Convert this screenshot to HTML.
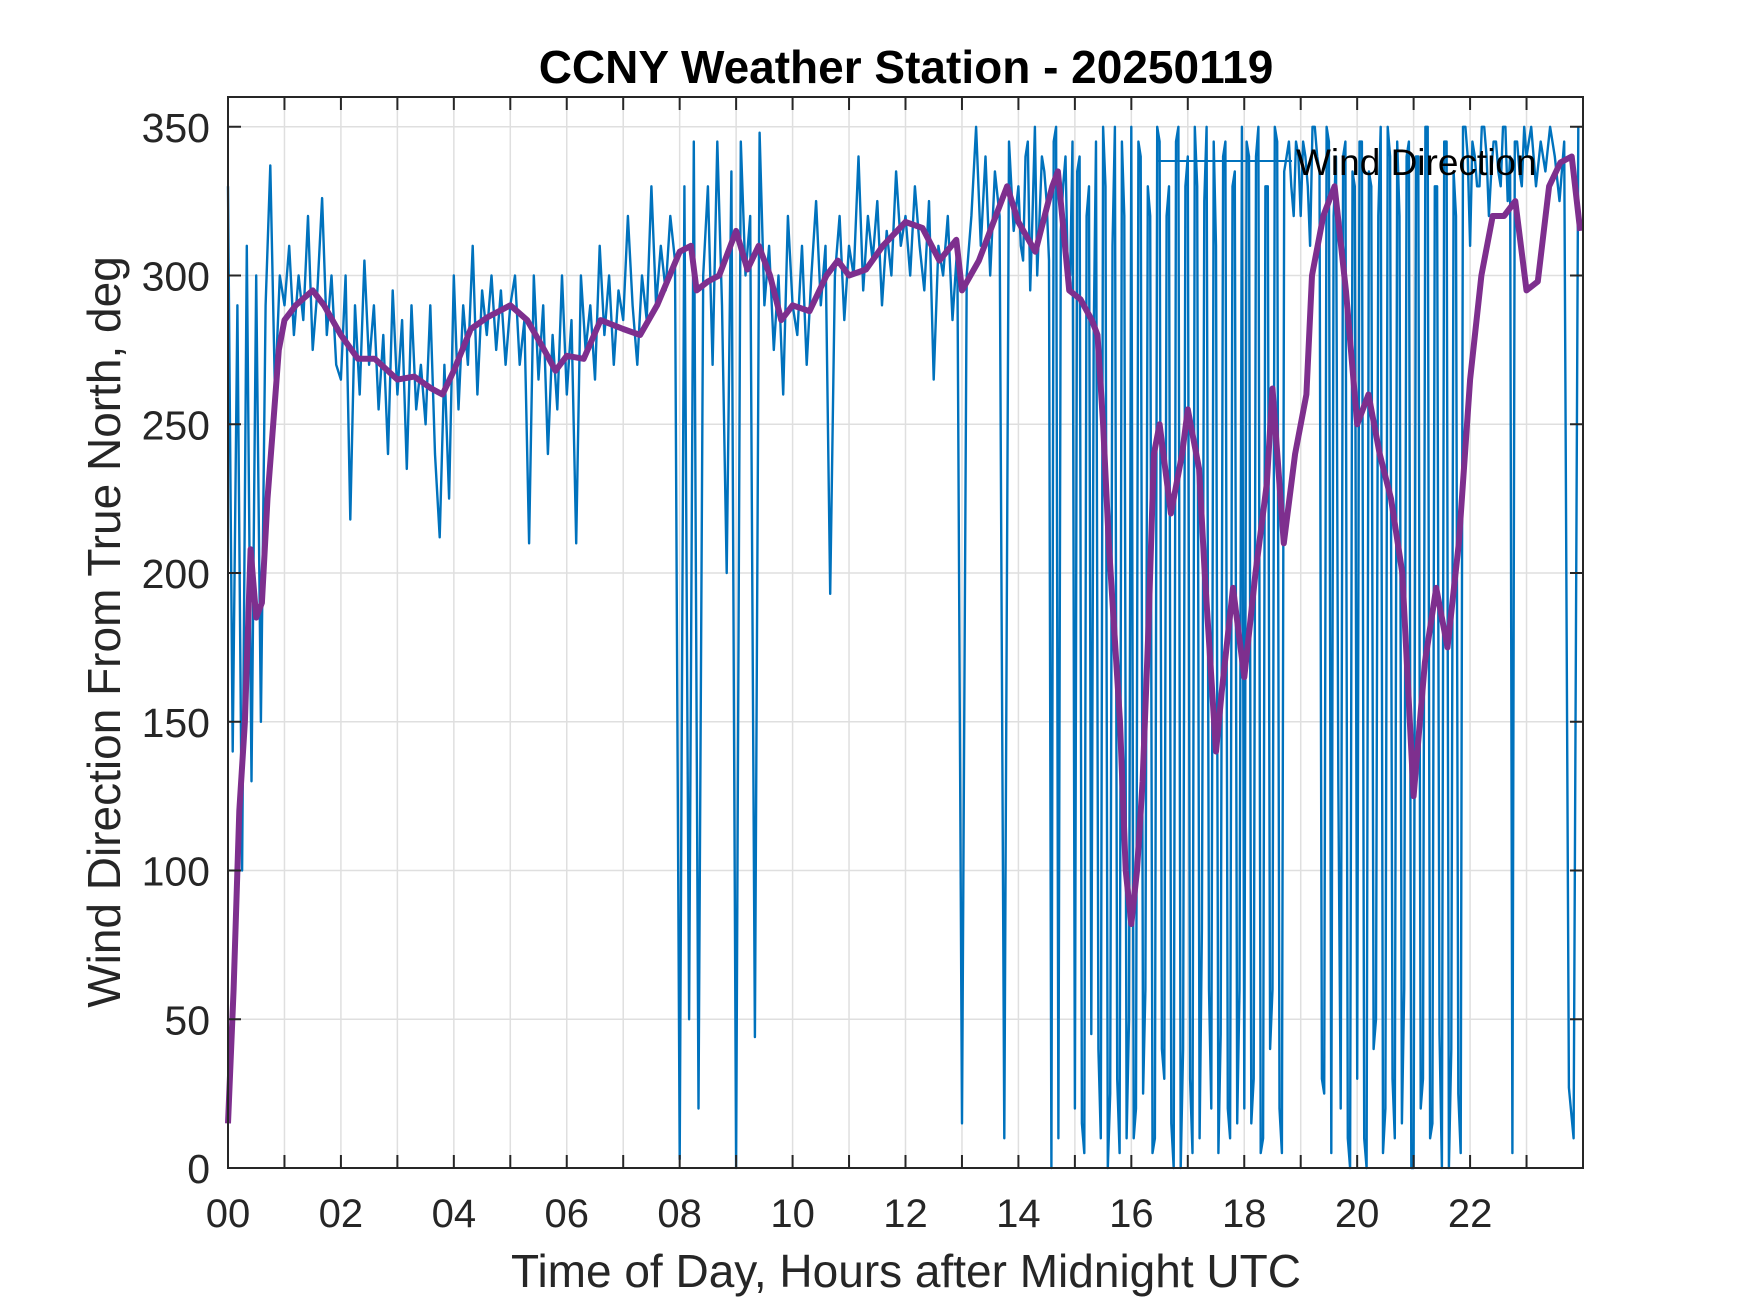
<!DOCTYPE html>
<html><head><meta charset="utf-8">
<style>
html,body{margin:0;padding:0;background:#fff;}
svg{display:block;font-family:"Liberation Sans",Arial,sans-serif;}
</style></head>
<body>
<svg id="chart" width="1750" height="1313" viewBox="0 0 1750 1313" xmlns="http://www.w3.org/2000/svg">
<rect x="0" y="0" width="1750" height="1313" fill="#fff"/>
<g id="grid"></g>
<g id="plot"></g>
<g id="axes"></g>
<text x="906" y="83" text-anchor="middle" font-size="46" font-weight="bold" fill="#000">CCNY Weather Station - 20250119</text>
<text x="906" y="1287" text-anchor="middle" font-size="46" fill="#262626">Time of Day, Hours after Midnight UTC</text>
<text transform="translate(120,632) rotate(-90)" text-anchor="middle" font-size="46" fill="#262626">Wind Direction From True North, deg</text>
<g>
<line x1="1158" y1="161" x2="1292" y2="161" stroke="#0072BD" stroke-width="2"/>
<text x="1296" y="175" font-size="37" fill="#000">Wind Direction</text>
</g>
</svg>
<script>
// Blue raw series: 5-minute samples, hours 0..23 (12 per hour)
const rawValues = [
330,140,290,100,310,130,300,150,290,337,260,300,
290,310,280,300,285,320,275,295,326,280,300,270,
265,300,218,290,260,305,270,290,255,280,240,295,
260,285,235,290,255,270,250,290,240,212,270,225,
300,255,290,270,310,260,295,280,300,275,295,270,
290,300,270,285,210,300,265,290,240,280,255,300,
260,285,210,300,275,290,265,310,280,300,270,295,
285,320,290,270,300,285,330,290,310,295,320,305,
3,330,50,345,20,300,330,270,345,290,200,335,
0,345,300,320,44,348,290,310,275,300,260,320,
290,280,310,270,300,325,290,310,193,300,320,285,
310,300,340,295,320,305,325,290,315,300,335,310,
320,300,330,310,295,325,265,310,300,320,285,310,
15,300,320,350,310,340,300,335,320,10,345,315,
330,305,345,320,300,340,325,0,350,315,340,300,
20,340,5,330,280,40,350,0,310,30,345,10,
350,20,340,60,320,10,345,30,330,0,350,40,
340,5,330,80,350,20,310,45,345,10,335,60,
20,340,30,350,10,330,60,345,5,340,330,345,
320,340,310,350,335,25,345,320,130,340,10,335,
30,345,0,330,50,350,20,340,10,320,60,345,
0,340,30,350,15,330,0,345,40,320,5,350,
310,340,330,350,320,345,335,350,325,5,345,330,
340,350,330,345,335,350,340,325,345,27,10,350
];
// Extra interleaved samples (offset 2.5 min), hours 14..22
const extraStartHour = 14;
const extraValues = [
310,340,295,350,320,335,305,345,10,330,300,345,
335,15,320,45,345,10,330,25,350,5,320,50,
10,345,25,330,5,350,40,320,15,345,0,330,
30,350,10,325,60,345,5,340,20,330,15,350,
345,15,340,5,330,40,350,20,335,345,320,340,
345,330,350,340,30,350,5,340,20,345,0,330,
345,10,335,40,320,5,350,30,345,15,340,0,
340,20,350,10,330,45,345,0,335,25,350,340,
345,330,350,340,335,345,330,350,340,345,335,350
];
// Purple smoothed series
const avgHours = [0,0.1,0.2,0.3,0.4,0.5,0.6,0.7,0.8,0.9,1.0,1.2,1.5,1.7,2.0,2.3,2.6,3.0,3.3,3.6,3.8,4.0,4.3,4.6,5.0,5.3,5.6,5.8,6.0,6.3,6.6,7.0,7.3,7.6,8.0,8.2,8.3,8.5,8.7,9.0,9.2,9.4,9.6,9.8,10.0,10.3,10.6,10.8,11.0,11.3,11.6,12.0,12.3,12.6,12.9,13.0,13.3,13.6,13.8,14.0,14.3,14.6,14.7,14.9,15.1,15.3,15.4,15.5,15.6,15.7,15.8,15.9,16.0,16.1,16.2,16.3,16.4,16.5,16.7,16.9,17.0,17.2,17.3,17.5,17.6,17.8,18.0,18.2,18.4,18.5,18.7,18.9,19.1,19.2,19.4,19.6,19.8,20.0,20.2,20.4,20.6,20.8,21.0,21.2,21.4,21.6,21.8,22.0,22.2,22.4,22.6,22.8,23.0,23.2,23.4,23.6,23.8,23.95];
const avgValues = [15,60,120,150,208,185,190,225,250,275,285,290,295,290,280,272,272,265,266,262,260,268,282,286,290,285,275,268,273,272,285,282,280,290,308,310,295,298,300,315,302,310,300,285,290,288,300,305,300,302,310,318,316,305,312,295,305,320,330,318,308,330,335,295,292,285,280,250,210,180,150,100,82,100,130,180,240,250,220,240,255,235,200,140,160,195,165,200,230,262,210,240,260,300,320,330,295,250,260,240,225,200,125,170,195,175,210,265,300,320,320,325,295,298,330,338,340,315];
const xTickLabels = ["00","02","04","06","08","10","12","14","16","18","20","22"];
const yTicks = [0,50,100,150,200,250,300,350];

const X0=228, X1=1583, Y0=1168, Y1=97, YMAX=360;
function xs(h){return X0+(X1-X0)*h/24;}
function ys(v){return Y0-(Y0-Y1)*v/YMAX;}
const NS="http://www.w3.org/2000/svg";
function mk(tag,attrs,parent){const e=document.createElementNS(NS,tag);for(const k in attrs)e.setAttribute(k,attrs[k]);parent.appendChild(e);return e;}
const grid=document.getElementById('grid'), plot=document.getElementById('plot'), axes=document.getElementById('axes');

for(let h=1;h<24;h++){
  const g=mk('line',{x1:xs(h),x2:xs(h),y1:Y1,y2:Y0,stroke:'#dfdfdf','stroke-width':1.5},grid);
  
  
}
yTicks.forEach(v=>{
  if(v===0)return;
  const g=mk('line',{x1:X0,x2:X1,y1:ys(v),y2:ys(v),stroke:'#dfdfdf','stroke-width':1.5},grid);
  
  
});

// merge samples by time
const pts=[];
rawValues.forEach((v,i)=>pts.push([i/12,v]));
extraValues.forEach((v,i)=>pts.push([extraStartHour+(i+0.5)/12,v]));
pts.sort((a,b)=>a[0]-b[0]);
let d='';
pts.forEach((p,i)=>{d+=(i?'L':'M')+xs(p[0]).toFixed(1)+','+ys(p[1]).toFixed(1);});
const raw=mk('path',{d:d,fill:'none',stroke:'#0072BD','stroke-width':2.4,'stroke-linejoin':'round'},plot);



let d2='';
avgValues.forEach((v,i)=>{d2+=(i?'L':'M')+xs(avgHours[i]).toFixed(1)+','+ys(v).toFixed(1);});
const avg=mk('path',{d:d2,fill:'none',stroke:'#7E2F8E','stroke-width':6,'stroke-linejoin':'round'},plot);



const box=mk('rect',{x:X0,y:Y1,width:X1-X0,height:Y0-Y1,fill:'none',stroke:'#262626','stroke-width':2},axes);



for(let h=1;h<24;h++){
  const t1=mk('line',{x1:xs(h),x2:xs(h),y1:Y0,y2:Y0-13,stroke:'#262626','stroke-width':2},axes);
  
  
  const t2=mk('line',{x1:xs(h),x2:xs(h),y1:Y1,y2:Y1+13,stroke:'#262626','stroke-width':2},axes);
  
  
}
xTickLabels.forEach((lab,i)=>{
  const t=mk('text',{x:xs(i*2),y:1227,'text-anchor':'middle','font-size':40,fill:'#262626'},axes);
  t.textContent=lab;
  
  
});
yTicks.forEach(v=>{
  const a=mk('line',{x1:X0,x2:X0+13,y1:ys(v),y2:ys(v),stroke:'#262626','stroke-width':2},axes);
  
  
  const b=mk('line',{x1:X1,x2:X1-13,y1:ys(v),y2:ys(v),stroke:'#262626','stroke-width':2},axes);
  
  
  const t=mk('text',{x:210,y:ys(v)+15,'text-anchor':'end','font-size':41,fill:'#262626'},axes);
  t.textContent=String(v);
  
  
});
</script>
</body></html>
